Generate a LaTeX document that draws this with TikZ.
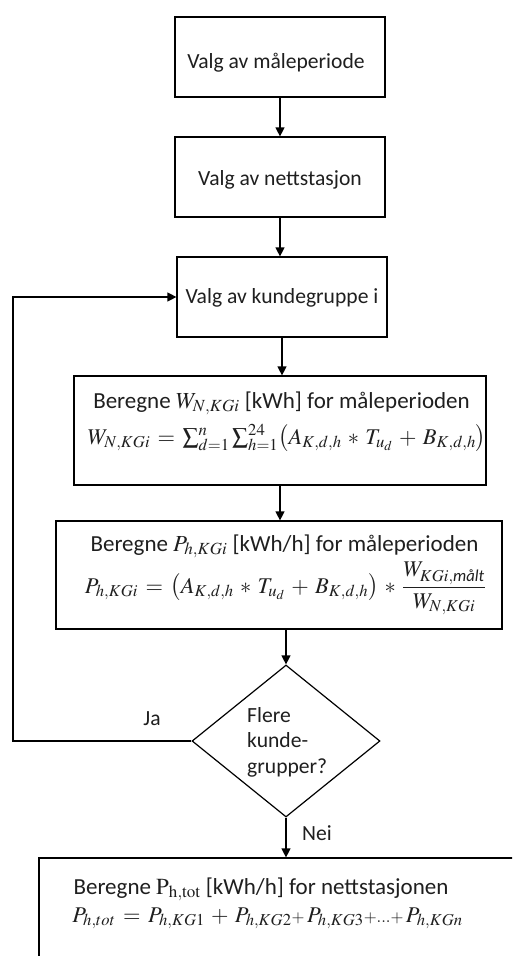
\documentclass[tikz,border=0pt]{standalone}
\usepackage{fix-cm}
\usepackage{amsmath}
\usepackage{mathptmx}
\usepackage{fontspec}
\setmainfont{Carlito}
\usetikzlibrary{shapes.geometric,arrows.meta}

\begin{document}
\begin{tikzpicture}[x=1pt,y=-1pt,
  box/.style={draw=black, line width=1.2pt, rectangle, inner sep=0pt},
  dia/.style={draw=black, line width=1.2pt, diamond, inner sep=0pt},
  txt/.style={font=\fontsize{21.6}{26}\selectfont, text=black!88, inner sep=0pt, anchor=base},
  bigtxt/.style={txt, font=\fontsize{23}{28}\selectfont},
  formula/.style={txt, font={\fontsize{#1}{28}\selectfont\medmuskip=5mu\thickmuskip=6mu}},
  flow/.style={draw=black, line width=1.2pt, -{Triangle[width=9pt,length=9pt]}}]
\useasboundingbox (0,0) rectangle (512,956);
\fill[white] (0,0) rectangle (512,956);
\clip (0,0) rectangle (512,956);

% process boxes
\node[box, minimum width=210pt, minimum height=80pt] (b1) at (280,57) {};
\node[box, minimum width=210pt, minimum height=80pt] (b2) at (280,177) {};
\node[box, minimum width=210pt, minimum height=80pt] (b3) at (282,297) {};
\node[box, minimum width=412pt, minimum height=109pt] (b4) at (280,430.5) {};
\node[box, minimum width=446pt, minimum height=108pt] (b5) at (279,575) {};
\node[dia, minimum width=188pt, minimum height=152pt] (d) at (286,741) {};
\node[box, minimum width=520pt, minimum height=160pt] (b6) at (299,938) {};

% box texts
\node[txt] (t1) at (276,68) {Valg av måleperiode};
\node[txt] (t2) at (280,185) {Valg av nettstasjon};
\node[txt] (t3) at (282,303) {Valg av kundegruppe i};
\node[bigtxt] (t4a) at (281.5,408) {Beregne $W_{N,KGi}$ [kWh] for måleperioden};
\node[formula=22.5] (t4b) at (287,444) {$W_{N,KGi} = \sum_{d=1}^{n}\sum_{h=1}^{24}\bigl(A_{K,d,h} * T_{u_d} + B_{K,d,h}\bigr)$};
\node[bigtxt] (t5a) at (284.5,551) {Beregne $P_{h,KGi}$ [kWh/h] for måleperioden};
\node[formula=22.5] (t5b) at (285.5,593) {$P_{h,KGi} = \bigl(A_{K,d,h} * T_{u_d} + B_{K,d,h}\bigr) * \dfrac{W_{KGi,\textit{målt}}}{W_{N,KGi}}$};
\node[txt, align=left, anchor=north west] (td) at (247,707) {Flere\\[-0.5pt]kunde-\\[-0.5pt]grupper?};
\node[bigtxt] (t6a) at (261,894) {Beregne $\mathrm{P}_{\mathrm{h,tot}}$ [kWh/h] for nettstasjonen};
\node[formula=22.5] (t6b) at (267.5,922) {$P_{h,tot} = P_{h,KG1} + P_{h,KG2}{\scriptstyle +}\,P_{h,KG3}{\scriptstyle +\ldots+}\,P_{h,KGn}$};

% connectors
\draw[flow] (b1.south) -- (b2.north);
\draw[flow] (b2.south) -- (b2.south |- b3.north);
\draw[flow] (b3.south) -- (b3.south |- b4.north);
\draw[flow] (b4.south) -- (b4.south |- b5.north);
\draw[flow] (d.north |- b5.south) -- (d.north);
\draw[flow] (d.south) -- (d.south |- b6.north);
\coordinate (loop) at (13,741);
\draw[flow] (d.west) -- (loop) |- (b3.west);

% branch labels
\node[txt] (ja) at (152,725) {Ja};
\node[txt, anchor=base west] (nei) at (302,840) {Nei};
\end{tikzpicture}
\end{document}
